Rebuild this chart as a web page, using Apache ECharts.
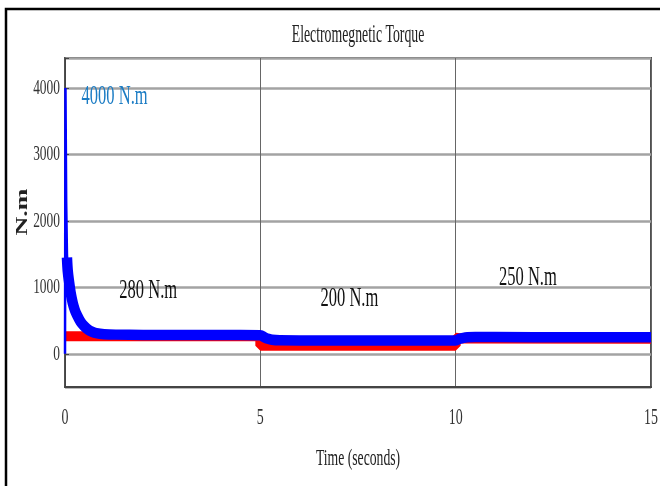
<!DOCTYPE html>
<html>
<head>
<meta charset="utf-8">
<script src="https://cdn.jsdelivr.net/npm/echarts@6/dist/echarts.min.js"></script>
<style>
  html, body { margin: 0; padding: 0; background: #fff; }
  #chart { width: 660px; height: 486px; }
</style>
</head>
<body>
<div id="chart"></div>
<script>
// Electromagnetic torque of the drive (blue) and the load torque (red), in N.m
const spikeTime = [0, 0.012, 0.03, 0.05, 0.07];
const spikeTorque = [0, 4000, 2300, 1500, 1250];

const emTime = [0.05, 0.07, 0.1, 0.15, 0.2, 0.25, 0.3, 0.4, 0.5, 0.6, 0.7, 0.8, 1.0, 1.3, 2, 3, 4, 5.0, 5.1, 5.2, 5.3, 5.5, 6, 8, 10.0, 10.1, 10.2, 10.3, 10.5, 11, 13, 15];
const emTorque = [1450, 1250, 1100, 900, 760, 660, 590, 480, 410, 360, 330, 310, 295, 288, 284, 282, 281, 280, 250, 225, 210, 202, 200, 200, 200, 225, 240, 248, 252, 251, 250, 250];

const loadTime = [0, 5, 5, 10, 10, 10.2, 15];
const loadTorque = [265, 265, 120, 120, 240, 228, 225];

const xTicks = [0, 5, 10, 15];
const xTickLabels = ['0', '5', '10', '15'];
const yTicks = [0, 1000, 2000, 3000, 4000];
const yTickLabels = ['0', '1000', '2000', '3000', '4000'];

const notes = ['4000 N.m', '280 N.m', '200 N.m', '250 N.m'];
const titleText = 'Electromegnetic Torque';
const xName = 'Time (seconds)';
const yName = 'N.m';

const pair = (xs, ys) => xs.map((x, i) => [x, ys[i]]);

const SERIF = '"Liberation Serif", "Times New Roman", serif';

const chart = echarts.init(document.getElementById('chart'), null, { renderer: 'canvas' });

chart.setOption({
  animation: false,
  backgroundColor: '#fff',
  grid: {
    left: 65, right: 9, top: 58, bottom: 99,
    show: true, borderColor: '#505050', borderWidth: 2, backgroundColor: '#fff'
  },
  xAxis: {
    type: 'value', min: 0, max: 15, interval: 5,
    axisLine: { show: true, onZero: false, lineStyle: { color: '#444', width: 2 } },
    axisTick: { show: false },
    axisLabel: { show: false },
    splitLine: { show: true, lineStyle: { color: '#666', width: 1 } }
  },
  yAxis: {
    type: 'value', min: -500, max: 4450, splitNumber: 5,
    axisLine: { show: true, lineStyle: { color: '#444', width: 1 } },
    axisTick: { show: true, inside: true, length: 4, lineStyle: { color: '#444' } },
    axisLabel: { show: false },
    splitLine: { show: true, lineStyle: { color: '#a3a3a3', width: 2.5 } }
  },
  series: [
    {
      name: 'Load torque', type: 'line', data: pair(loadTime, loadTorque),
      showSymbol: false, lineStyle: { color: '#ff0000', width: 10, cap: 'butt', join: 'bevel' }, z: 2
    },
    {
      name: 'Electromagnetic torque', type: 'line', data: pair(emTime, emTorque),
      showSymbol: false, smooth: 0.3, lineStyle: { color: '#0000ff', width: 10.5, cap: 'butt', join: 'round' }, z: 3
    },
    {
      name: 'Starting spike', type: 'line', data: pair(spikeTime, spikeTorque),
      showSymbol: false, lineStyle: { color: '#0000ff', width: 2.5 }, z: 4
    }
  ]
});

// Text is drawn as graphic elements so it can take the narrow serif look
const px = (axis, v) => chart.convertToPixel(axis === 'x' ? { xAxisIndex: 0 } : { yAxisIndex: 0 }, v);
const narrowText = (text, x, y, size, squish, fill, align) => ({
  type: 'text', x: x, y: y, scaleX: squish, silent: true,
  style: {
    text: text, fill: fill || '#222', font: size + 'px ' + SERIF,
    textAlign: align || 'center', textVerticalAlign: 'middle'
  }
});

const graphics = [];

// Outer frame
graphics.push({
  type: 'rect', shape: { x: 6, y: 9, width: 720, height: 560 },
  style: { fill: 'none', stroke: '#000', lineWidth: 2.5 }, silent: true, z: 10
});

graphics.push(narrowText(titleText, px('x', 7.5), 35, 26, 0.53));

yTicks.forEach((v, i) => {
  graphics.push(narrowText(yTickLabels[i], 60, px('y', v), 22, 0.61, '#333', 'right'));
});
xTicks.forEach((v, i) => {
  graphics.push(narrowText(xTickLabels[i], px('x', v), 418, 24, 0.58, '#333'));
});
graphics.push(narrowText(xName, px('x', 7.5), 459, 24, 0.57));
graphics.push({
  type: 'text', x: 23, y: 212, rotation: Math.PI / 2, scaleY: 0.63, silent: true,
  style: {
    text: yName, fill: '#222', font: 'bold 26px ' + SERIF,
    textAlign: 'center', textVerticalAlign: 'middle'
  }
});

// Annotations anchored in data coordinates
const noteAnchors = [[1.27, 3865], [2.13, 950], [7.28, 830], [11.85, 1140]];
notes.forEach((s, i) => {
  const [ax, ay] = noteAnchors[i];
  graphics.push(narrowText(s, px('x', ax), px('y', ay), 28, 0.59, i === 0 ? '#1b7cc4' : '#111'));
});

chart.setOption({ graphic: graphics });
</script>
</body>
</html>
